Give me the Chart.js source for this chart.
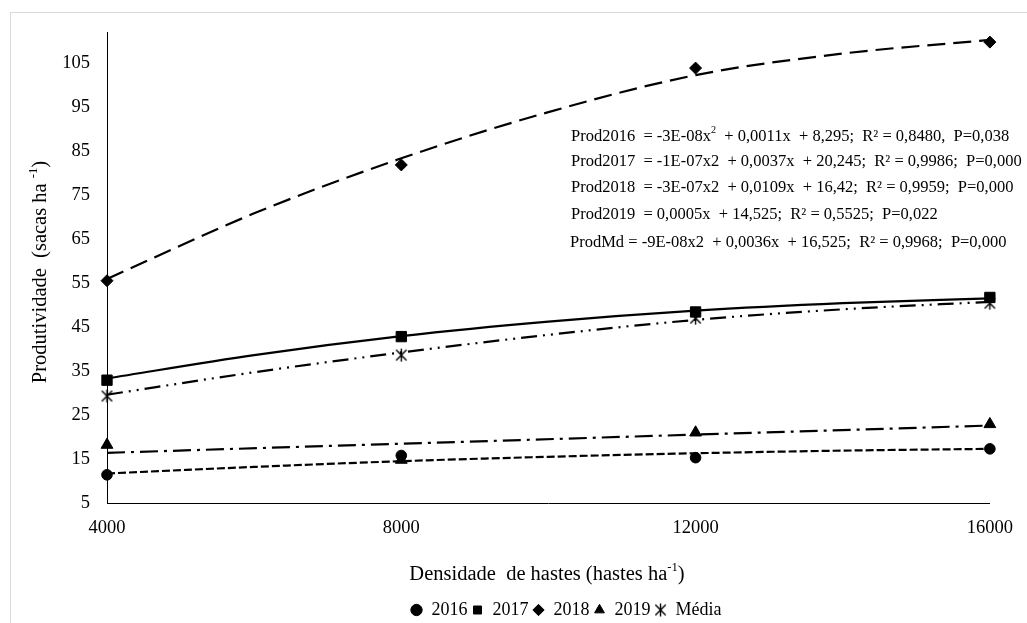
<!DOCTYPE html>
<html lang="pt">
<head>
<meta charset="utf-8">
<title>Produtividade x Densidade de hastes</title>
<script src="https://cdn.jsdelivr.net/npm/chart.js@4"></script>
<style>
  html, body { margin: 0; padding: 0; background: #fff; }
  #wrap { position: relative; width: 1027px; height: 623px; overflow: hidden; }
  #frame { position: absolute; left: 10px; top: 12px; width: 2000px; height: 2000px;
           border-left: 1px solid #d9d9d9; border-top: 1px solid #d9d9d9; z-index: 0; }
  #myChart { position: absolute; left: 0; top: 0; z-index: 1; }
</style>
</head>
<body>
<div id="wrap">
  <div id="frame"></div>
  <canvas id="myChart" width="1027" height="623"></canvas>
</div>
<script>
// Valores (densidade em hastes/ha, produtividade em sacas/ha)
const densidades = [4000, 8000, 12000, 16000];
const prod2016 = [11.4, 15.8, 15.3, 17.3];
const prod2017 = [32.9, 42.8, 48.4, 51.7];
const prod2018 = [55.5, 81.8, 103.8, 109.7];
const prod2019 = [18.2, 14.8, 21.0, 22.9];
const prodMedia = [29.3, 38.6, 47.0, 50.4];

// Linhas de tendência
const trendX = [4000, 6000, 8000, 10000, 12000, 14000, 16000];
const trend2016 = [11.7, 13.2, 14.5, 15.5, 16.3, 16.9, 17.3];
const trend2017 = [33.3, 38.6, 42.9, 46.2, 48.7, 50.4, 51.5];
const trend2018 = [55.9, 70.8, 83.3, 93.8, 102.2, 107.1, 110.2];
const trendMedia = [29.6, 34.7, 39.2, 43.2, 46.6, 49.0, 50.7];
const trend2019X = [4000, 16000];
const trend2019 = [16.4, 22.6];

// Eixos
const xTicks = [4000, 8000, 12000, 16000];
const yTicks = [5, 15, 25, 35, 45, 55, 65, 75, 85, 95, 105];
const legendLabels = ['2016', '2017', '2018', '2019', 'Média'];

// Textos
const yTitle = [['Produtividade  (sacas ha ', false], ['-1', true], [')', false]];
const xTitle = [['Densidade  de hastes (hastes ha', false], ['-1', true], [')', false]];
const equations = [
  [['Prod2016  = -3E-08x', false], ['2', true], ['  + 0,0011x  + 8,295;  R² = 0,8480,  P=0,038', false]],
  [['Prod2017  = -1E-07x2  + 0,0037x  + 20,245;  R² = 0,9986;  P=0,000', false]],
  [['Prod2018  = -3E-07x2  + 0,0109x  + 16,42;  R² = 0,9959;  P=0,000', false]],
  [['Prod2019  = 0,0005x  + 14,525;  R² = 0,5525;  P=0,022', false]],
  [['ProdMd = -9E-08x2  + 0,0036x  + 16,525;  R² = 0,9968;  P=0,000', false]]
];

const FONT = "'Liberation Serif', 'Times New Roman', serif";
const ctx = document.getElementById('myChart').getContext('2d');

// Marcador "asterisco" da série Média
function makeStar(size) {
  const c = document.createElement('canvas');
  c.width = size; c.height = size;
  const g = c.getContext('2d');
  const m = size / 2, r = size / 2 - 1;
  g.strokeStyle = '#000';
  g.lineWidth = 1.4;
  g.beginPath();
  g.moveTo(m, m - r); g.lineTo(m, m + r);
  g.moveTo(m - r * 0.8, m - r * 0.8); g.lineTo(m + r * 0.8, m + r * 0.8);
  g.moveTo(m + r * 0.8, m - r * 0.8); g.lineTo(m - r * 0.8, m + r * 0.8);
  g.stroke();
  return c;
}
const starMarker = makeStar(15);

function points(xs, ys) {
  return xs.map((x, i) => ({ x, y: ys[i] }));
}

function pointSet(label, ys, style, radius) {
  return {
    label,
    data: points(densidades, ys),
    showLine: false,
    pointStyle: style,
    pointRadius: radius,
    pointHoverRadius: radius,
    backgroundColor: '#000',
    borderColor: '#000',
    borderWidth: 1,
    clip: false,
    order: 1
  };
}

function trendSet(xs, ys, dash) {
  return {
    label: 'trend',
    data: points(xs, ys),
    showLine: true,
    pointRadius: 0,
    borderColor: '#000',
    borderWidth: 2.2,
    borderDash: dash,
    borderCapStyle: 'butt',
    cubicInterpolationMode: 'monotone',
    fill: false,
    clip: false,
    order: 2
  };
}

function drawRich(g, parts, x, y, size, align) {
  const supSize = size * 0.62;
  const widths = parts.map(([t, sup]) => {
    g.font = `${sup ? supSize : size}px ${FONT}`;
    return g.measureText(t).width;
  });
  const total = widths.reduce((a, b) => a + b, 0);
  let cx = align === 'center' ? x - total / 2 : x;
  g.textAlign = 'left';
  g.textBaseline = 'middle';
  parts.forEach(([t, sup], i) => {
    g.font = `${sup ? supSize : size}px ${FONT}`;
    g.fillText(t, cx, sup ? y - size * 0.36 : y);
    cx += widths[i];
  });
}

const LEGEND_CENTER_X = 566;
const EQ_X = [571, 571, 571, 571, 570];
const EQ_Y = [136.7, 161.7, 187.5, 215, 242.5];

const extras = {
  id: 'extras',
  afterLayout(chart) {
    const lg = chart.legend;
    const shift = LEGEND_CENTER_X - (lg.left + lg.right) / 2;
    lg.left += shift;
    lg.right += shift;
  },
  afterDraw(chart) {
    const g = chart.ctx;
    g.save();
    g.fillStyle = '#000';
    // título do eixo y
    g.save();
    g.translate(41, 272);
    g.rotate(-Math.PI / 2);
    drawRich(g, yTitle, 0, 0, 20.5, 'center');
    g.restore();
    // título do eixo x
    drawRich(g, xTitle, 547, 575, 20.5, 'center');
    // equações
    equations.forEach((eq, i) => drawRich(g, eq, EQ_X[i], EQ_Y[i], 16.5, 'left'));
    g.restore();
  }
};

const tickFont = { family: FONT, size: 18.5 };

const financeChart = new Chart(ctx, {
  type: 'scatter',
  data: {
    datasets: [
      pointSet(legendLabels[0], prod2016, 'circle', 5.3),
      pointSet(legendLabels[1], prod2017, 'rect', 7.3),
      pointSet(legendLabels[2], prod2018, 'rectRot', 6),
      pointSet(legendLabels[3], prod2019, 'triangle', 6.8),
      pointSet(legendLabels[4], prodMedia, starMarker, 7),
      trendSet(trendX, trend2016, [8, 3]),
      trendSet(trendX, trend2017, []),
      trendSet(trendX, trend2018, [18, 8]),
      trendSet(trend2019X, trend2019, [18, 6, 3, 6]),
      trendSet(trendX, trendMedia, [16, 6, 2, 6, 2, 6])
    ]
  },
  options: {
    responsive: false,
    animation: false,
    events: [],
    layout: { padding: { top: 32, right: 37, bottom: -6, left: 0 } },
    plugins: {
      legend: {
        position: 'bottom',
        labels: {
          usePointStyle: true,
          boxWidth: 12,
          boxHeight: 8,
          padding: 4,
          color: '#000',
          font: { family: FONT, size: 18 },
          filter: item => item.datasetIndex < 5
        }
      },
      tooltip: { enabled: false }
    },
    scales: {
      x: {
        type: 'linear',
        min: 4000,
        max: 16000,
        grid: { display: false, drawTicks: false },
        border: { display: true, color: '#000', width: 1 },
        ticks: {
          padding: 14,
          color: '#000',
          font: tickFont,
          maxRotation: 0,
          autoSkip: false,
          callback: v => String(v)
        },
        afterBuildTicks: s => { s.ticks = xTicks.map(v => ({ value: v })); },
        afterFit: s => { s.height = 94; }
      },
      y: {
        type: 'linear',
        min: 5,
        max: 112,
        grid: { display: false, drawTicks: false },
        border: { display: true, color: '#000', width: 1 },
        ticks: {
          padding: 17,
          color: '#000',
          font: tickFont,
          autoSkip: false,
          callback: v => String(v)
        },
        afterBuildTicks: s => { s.ticks = yTicks.map(v => ({ value: v })); },
        afterFit: s => { s.width = 107; }
      }
    }
  },
  plugins: [extras]
});
</script>
</body>
</html>
